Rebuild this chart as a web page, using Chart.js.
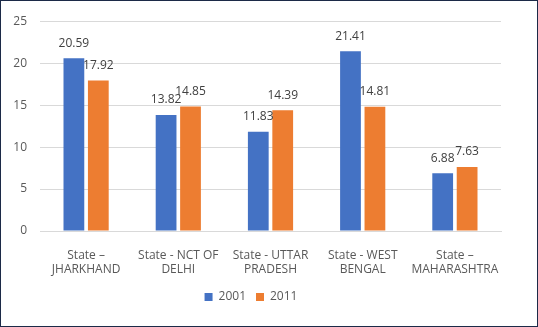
<!DOCTYPE html>
<html>
<head>
<meta charset="utf-8">
<script src="https://cdn.jsdelivr.net/npm/chart.js@4"></script>
<style>
  body { margin: 0; background: #fff; }
  .frame { width: 538px; height: 327px; box-sizing: border-box; border: 1px solid #1c2a48; background: #fff; }
  canvas { display: block; }
</style>
</head>
<body>
<div class="frame"><canvas id="chart" width="536" height="325"></canvas></div>
<script>
// chart data
const states = [
    ['State \u2013', 'JHARKHAND'],
    ['State - NCT OF', 'DELHI'],
    ['State - UTTAR', 'PRADESH'],
    ['State - WEST', 'BENGAL'],
    ['State \u2013', 'MAHARASHTRA']
];
const values2001 = [20.59, 13.82, 11.83, 21.41, 6.88];
const values2011 = [17.92, 14.85, 14.39, 14.81, 7.63];
const yTicks = [0, 5, 10, 15, 20, 25];

const FONT = 'Open Sans';

// draws the value above each bar
const valueLabels = {
    id: 'valueLabels',
    afterDatasetsDraw(chart) {
        const ctx = chart.ctx;
        ctx.save();
        ctx.font = '12px "' + FONT + '"';
        ctx.fillStyle = '#404040';
        ctx.textAlign = 'center';
        ctx.textBaseline = 'middle';
        chart.data.datasets.forEach((ds, i) => {
            chart.getDatasetMeta(i).data.forEach((bar, j) => {
                ctx.fillText(ds.data[j].toFixed(2), bar.x, bar.y - 15);
            });
        });
        ctx.restore();
    }
};

new Chart(document.getElementById('chart'), {
    type: 'bar',
    data: {
        labels: states,
        datasets: [
            { label: '2001', data: values2001, backgroundColor: '#4472C4' },
            { label: '2011', data: values2011, backgroundColor: '#ED7D31' }
        ]
    },
    options: {
        responsive: false,
        animation: false,
        layout: { padding: { top: 18, right: 36, bottom: 13, left: 0 } },
        datasets: {
            bar: { categoryPercentage: 0.53, barPercentage: 0.85 }
        },
        scales: {
            x: {
                grid: { display: false },
                border: { color: '#d9d9d9' },
                afterFit: (scale) => { scale.height = 50; },
                ticks: {
                    color: '#595959',
                    font: { family: FONT, size: 12, lineHeight: 1.15 },
                    maxRotation: 0,
                    autoSkip: false,
                    padding: 10
                }
            },
            y: {
                min: 0,
                max: 25,
                afterBuildTicks: (scale) => { scale.ticks = yTicks.map(v => ({ value: v })); },
                afterFit: (scale) => { scale.width = 39; },
                grid: { color: '#d9d9d9', drawTicks: false },
                border: { display: false },
                ticks: {
                    color: '#595959',
                    font: { family: FONT, size: 12 },
                    padding: 13
                }
            }
        },
        plugins: {
            legend: {
                position: 'bottom',
                labels: {
                    boxWidth: 8,
                    boxHeight: 8,
                    color: '#595959',
                    font: { family: FONT, size: 12 },
                    padding: 10
                }
            },
            tooltip: { enabled: false }
        }
    },
    plugins: [valueLabels]
});
</script>
</body>
</html>
